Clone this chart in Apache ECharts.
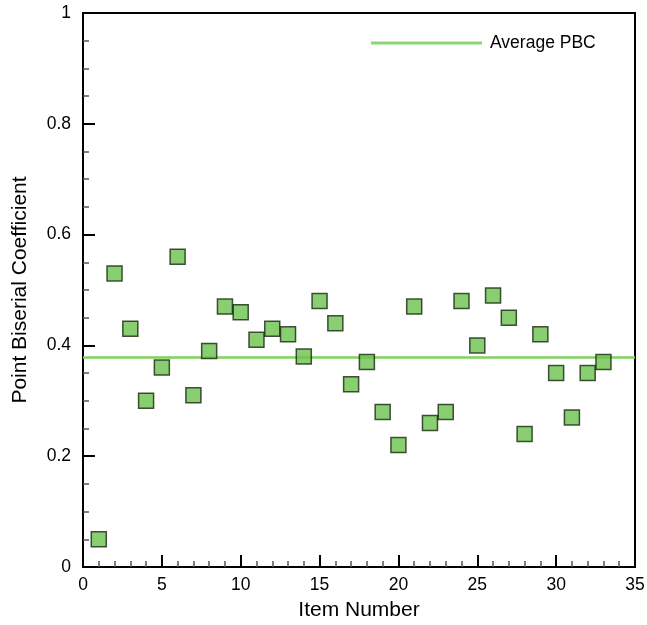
<!DOCTYPE html>
<html>
<head>
<meta charset="utf-8">
<script src="https://cdn.jsdelivr.net/npm/echarts@6/dist/echarts.min.js"></script>
<style>
  html, body { margin: 0; padding: 0; background: #fff; }
  #chart { width: 647px; height: 625px; }
</style>
</head>
<body>
<div id="chart"></div>
<script>
// Item numbers and their point biserial coefficients
const itemNumbers = [1, 2, 3, 4, 5, 6, 7, 8, 9, 10, 11, 12, 13, 14, 15, 16, 17,
  18, 19, 20, 21, 22, 23, 24, 25, 26, 27, 28, 29, 30, 31, 32, 33];
const pbcValues = [0.05, 0.53, 0.43, 0.30, 0.36, 0.56, 0.31, 0.39, 0.47, 0.46, 0.41,
  0.43, 0.42, 0.38, 0.48, 0.44, 0.33, 0.37, 0.28, 0.22, 0.47, 0.26, 0.28, 0.48,
  0.40, 0.49, 0.45, 0.24, 0.42, 0.35, 0.27, 0.35, 0.37];
// Average PBC reference line, spanning the full x range
const averagePBC = 0.378;
const avgLineX = [0, 35];

const FONT = '"Liberation Sans", Arial, Helvetica, sans-serif';

const scatterData = itemNumbers.map((n, i) => [n, pbcValues[i]]);
const avgData = avgLineX.map(x => [x, averagePBC]);

const chart = echarts.init(document.getElementById('chart'), null, { renderer: 'canvas' });

chart.setOption({
  animation: false,
  backgroundColor: '#fff',
  grid: {
    left: 83, right: 12, top: 13, bottom: 58,
    containLabel: false, outerBoundsMode: 'none',
    show: true, borderColor: '#000', borderWidth: 2, backgroundColor: 'transparent'
  },
  legend: {
    data: [{ name: 'Average PBC', icon: 'rect' }],
    top: 29, left: 366,
    itemWidth: 111, itemHeight: 3, itemGap: 10,
    textStyle: { fontFamily: FONT, fontSize: 17.5, color: '#000', padding: [0, 0, 0, 3] }
  },
  xAxis: {
    type: 'value', min: 0, max: 35, interval: 5,
    name: 'Item Number', nameLocation: 'middle', nameGap: 33,
    nameTextStyle: { fontFamily: FONT, fontSize: 21, color: '#000' },
    axisLine: { show: true, lineStyle: { color: '#000', width: 2 } },
    axisTick: { show: true, inside: true, length: 12, lineStyle: { color: '#000', width: 2 } },
    minorTick: { show: true, splitNumber: 5, length: 6, lineStyle: { color: '#555', width: 1.5 } },
    axisLabel: { fontFamily: FONT, fontSize: 17.5, color: '#000', margin: 9 },
    splitLine: { show: false }
  },
  yAxis: {
    type: 'value', min: 0, max: 1, interval: 0.2,
    name: 'Point Biserial Coefficient', nameLocation: 'middle', nameGap: 52,
    nameTextStyle: { fontFamily: FONT, fontSize: 21, color: '#000' },
    axisLine: { show: true, lineStyle: { color: '#000', width: 2 } },
    axisTick: { show: true, inside: true, length: 12, lineStyle: { color: '#000', width: 2 } },
    minorTick: { show: true, splitNumber: 4, length: 6, lineStyle: { color: '#555', width: 1.5 } },
    axisLabel: {
      fontFamily: FONT, fontSize: 17.5, color: '#000', margin: 12,
      formatter: v => (v === 0 || v === 1) ? String(v) : v.toFixed(1)
    },
    splitLine: { show: false }
  },
  series: [
    {
      name: 'Average PBC',
      type: 'line',
      data: avgData,
      symbol: 'none',
      lineStyle: { color: '#7fd25e', width: 2.5 },
      itemStyle: { color: '#8ad77a' },
      z: 2
    },
    {
      name: 'PBC',
      type: 'scatter',
      data: scatterData,
      symbol: 'rect',
      symbolSize: 15,
      itemStyle: { color: '#6cc24e', borderColor: '#17280f', borderWidth: 1.5 },
      z: 3
    }
  ]
});
</script>
</body>
</html>
